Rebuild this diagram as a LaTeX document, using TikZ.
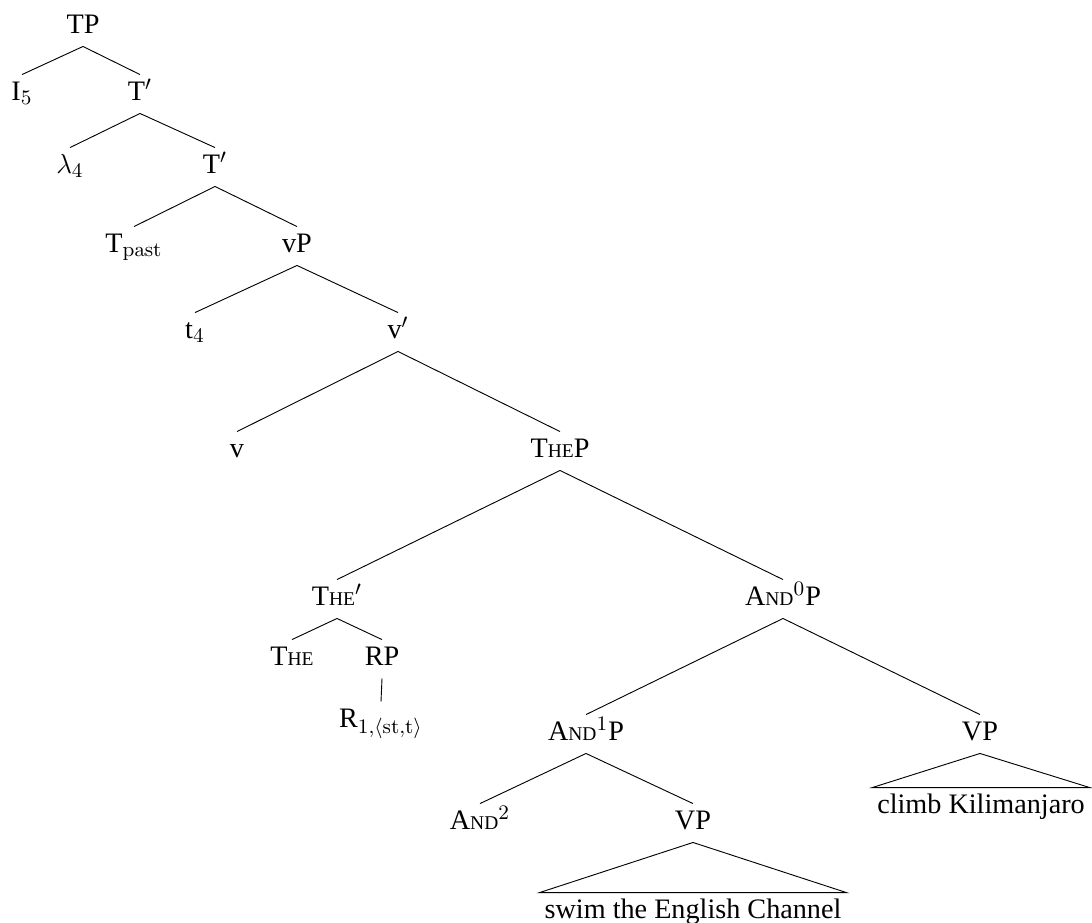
\documentclass[tikz,border=0pt]{standalone}
\usepackage[no-math]{fontspec}
\setmainfont{Liberation Serif}
\newcommand\smcap[1]{{\fontsize{8.5}{9}\selectfont #1}}
\begin{document}
\begin{tikzpicture}[x=0.43636pt,y=-0.43636pt,
  lbl/.style={anchor=base, inner sep=0pt, text height=10.9pt, text depth=5.67pt, font=\fontsize{12.3}{14}\selectfont},
  leaf/.style={anchor=base, inner xsep=2pt, inner ysep=0pt, text height=10.9pt, text depth=0pt, font=\fontsize{12.3}{14}\selectfont},
  edge/.style={line width=0.4pt, draw=black}]
\useasboundingbox (0,0) rectangle (1092,922);
\node[lbl] (TP) at (83,33) {TP};
\node[lbl] (I5) at (22,100) {I$_5$};
\node[lbl] (T1) at (140,100) {T$'$};
\node[lbl] (L4) at (70,173) {$\lambda_4$};
\node[lbl] (T2) at (215,173) {T$'$};
\node[lbl] (Tp) at (134,252) {T$_{\mathrm{past}}$};
\node[lbl] (vP) at (297,252) {vP};
\node[lbl] (t4) at (195,338) {t$_4$};
\node[lbl] (v1) at (398,338) {v$'$};
\node[lbl] (v) at (237,457) {v};
\node[lbl] (TheP) at (560,457) {T\smcap{HE}P};
\node[lbl] (The1) at (337,605) {T\smcap{HE}$'$};
\node[lbl] (And0P) at (783,605) {A\smcap{ND}$^0$P};
\node[lbl] (The) at (292,665) {T\smcap{HE}};
\node[lbl] (RP) at (382,665) {RP};
\node[lbl] (R) at (381,727) {R$_{1,\langle \mathrm{st},\mathrm{t}\rangle}$};
\node[lbl] (And1P) at (586,740) {A\smcap{ND}$^1$P};
\node[lbl] (VPr) at (980,740) {VP};
\node[lbl] (And2) at (480,829) {A\smcap{ND}$^2$};
\node[lbl] (VPl) at (693,829) {VP};
\node[leaf] (climb) at (981,813) {climb Kilimanjaro};
\node[leaf] (swim) at (693,918) {swim the English Channel};
\draw[edge] (TP.south) -- (I5.north);
\draw[edge] (TP.south) -- (T1.north);
\draw[edge] (T1.south) -- (L4.north);
\draw[edge] (T1.south) -- (T2.north);
\draw[edge] (T2.south) -- (Tp.north);
\draw[edge] (T2.south) -- (vP.north);
\draw[edge] (vP.south) -- (t4.north);
\draw[edge] (vP.south) -- (v1.north);
\draw[edge] (v1.south) -- (v.north);
\draw[edge] (v1.south) -- (TheP.north);
\draw[edge] (TheP.south) -- (The1.north);
\draw[edge] (TheP.south) -- (And0P.north);
\draw[edge] (The1.south) -- (The.north);
\draw[edge] (The1.south) -- (RP.north);
\draw[edge] (RP.south) -- (R.north);
\draw[edge] (And0P.south) -- (And1P.north);
\draw[edge] (And0P.south) -- (VPr.north);
\draw[edge] (And1P.south) -- (And2.north);
\draw[edge] (And1P.south) -- (VPl.north);
\draw[edge] (VPr.south) -- (climb.north west) -- (climb.north east) -- cycle;
\draw[edge] (VPl.south) -- (swim.north west) -- (swim.north east) -- cycle;
\end{tikzpicture}
\end{document}
